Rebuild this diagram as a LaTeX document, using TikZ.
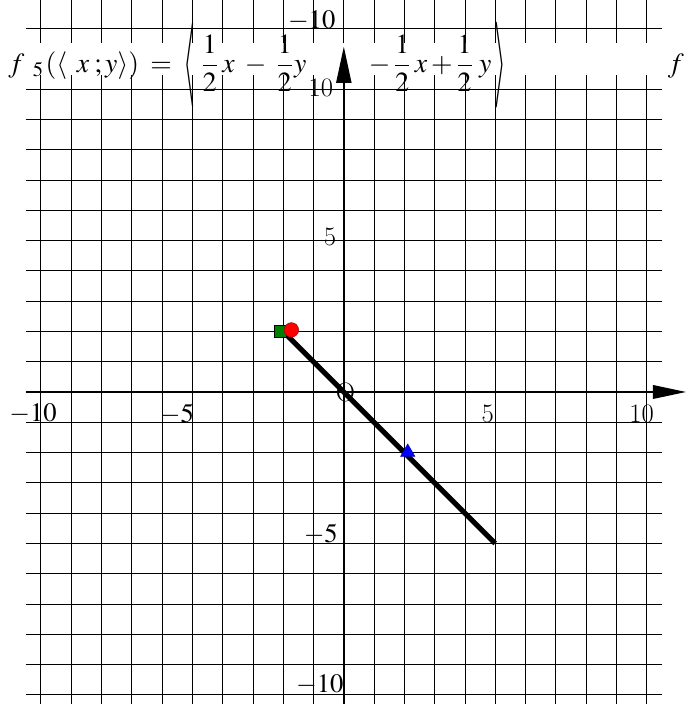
\documentclass[tikz,border=0pt]{standalone}
\usepackage{mathptmx}
\usetikzlibrary{arrows.meta,shapes.geometric}
\newcommand{\tallopen}{\mathopen{\vcenter{\hbox{\scalebox{1.1}[3.1]{$\langle$}}}}}
\newcommand{\tallclose}{\mathclose{\vcenter{\hbox{\scalebox{1.1}[3.1]{$\rangle$}}}}}

\begin{document}
\begin{tikzpicture}[
  gridline/.style={black,line width=0.8pt},
  axis/.style={black,line width=1.6pt},
  ticklabel/.style={font=\fontsize{25}{28}\selectfont,inner sep=0pt},
  seg/.style={black,line width=4.8pt},
  ptsq/.style={draw=black,fill=green!50!black,minimum size=0.42cm,inner sep=0pt,line width=0.4pt},
  ptci/.style={circle,draw=red!60!black,fill=red,minimum size=0.48cm,inner sep=0pt,line width=0.4pt},
  pttr/.style={regular polygon,regular polygon sides=3,draw=blue!70!black,fill=blue,
    minimum size=0.55cm,inner sep=0pt,line width=0.4pt}]
  \useasboundingbox (-11.35,-10.3) rectangle (11.29,12.94);
  \clip (-11.35,-10.3) rectangle (11.29,12.94);
  % grid
  \foreach \i in {-10,...,10}
    \draw[gridline] (\i,-10.6) -- (\i,13.2);
  \foreach \j in {-10,...,12}
    \draw[gridline] (-10.5,\j) -- (10.5,\j);
  % formula strip
  \fill[white] (-11.5,10.46) rectangle (11.5,11.52);
  \node[anchor=base west,inner sep=0pt,font=\fontsize{26}{30}\selectfont] (formula) at (-11.08,10.56)
    {$\displaystyle f\hspace{8pt}{}_{5}\hspace{2pt}(\langle\hspace{9pt}x\hspace{5pt};y\rangle)\hspace{5pt}=\hspace{5pt}
      \tallopen\hspace{6pt}\frac{1}{2}\hspace{4pt}x\hspace{6pt}-\hspace{6pt}\frac{1}{2}\hspace{1pt}y
      \hspace{55pt}-\frac{1}{2}\hspace{4pt}x+\frac{1}{2}\hspace{6pt}y\hspace{3pt}\tallclose$};
  \node[anchor=base,inner sep=0pt,font=\fontsize{26}{30}\selectfont] (fnext) at (10.96,10.56) {$f$};
  % axes
  \coordinate (xl) at (-10.5,0);
  \coordinate (xr) at (11.3,0);
  \coordinate (yb) at (0,-10.6);
  \coordinate (yt) at (0,11.4);
  \draw[axis,-{Triangle[length=1.1cm,width=0.45cm]}] (xl) -- (xr);
  \draw[axis,-{Triangle[length=1.2cm,width=0.5cm]}] (yb) -- (yt);
  % tick labels
  \node[ticklabel] (xm10) at (-10.26,-0.73) {$-10$};
  \node[ticklabel] (xm5) at (-5.51,-0.73) {$-5$};
  \node[ticklabel] (xp5) at (4.75,-0.73) {5};
  \node[ticklabel] (xp10) at (9.83,-0.73) {10};
  \node[ticklabel] (ym10top) at (-1.06,12.24) {$-10$};
  \node[ticklabel] (yp10) at (-0.76,10.03) {10};
  \node[ticklabel] (yp5) at (-0.46,5.12) {5};
  \node[ticklabel] (ym5) at (-0.76,-4.72) {$-5$};
  \node[ticklabel] (ym10) at (-0.79,-9.67) {$-10$};
  \node[ticklabel] (origin) at (0.05,0) {O};
  % segment and points
  \coordinate (segstart) at (-2,2);
  \coordinate (segend) at (5,-5);
  \draw[seg] (segstart) -- (segend);
  \node[ptsq] (sq) at (-2.1,2.01) {};
  \node[ptci] (ci) at (-1.73,2.05) {};
  \node[pttr] (tr) at (2.11,-1.99) {};
\end{tikzpicture}
\end{document}
